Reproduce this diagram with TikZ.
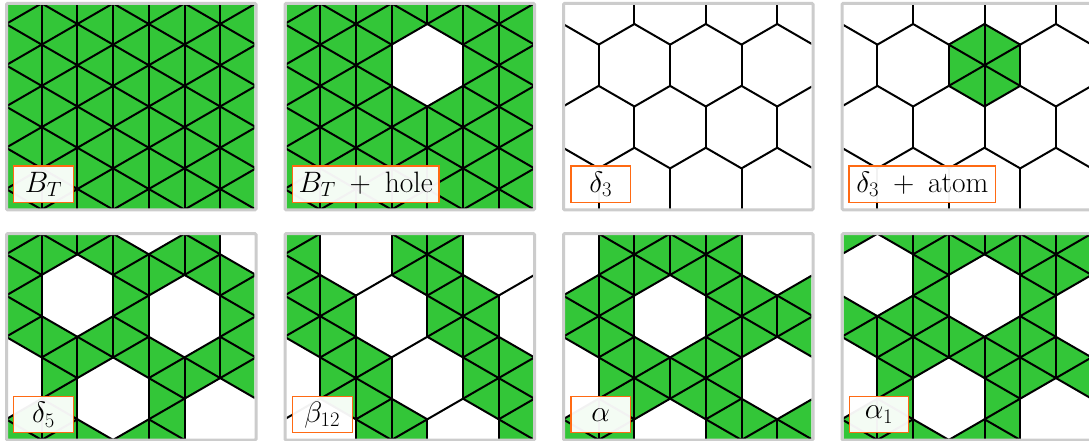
\documentclass[tikz,border=0pt]{standalone}
\usepackage{fix-cm}
\definecolor{cellgreen}{HTML}{33C638}
\definecolor{framegray}{HTML}{CCCCCC}
\definecolor{tagorange}{HTML}{FF6A13}
\tikzset{
  bondline/.style={draw=black,line width=2pt,line cap=round,line join=round},
  cellfill/.style={fill=cellgreen},
  frameline/.style={draw=framegray,line width=3pt,rounded corners=1pt},
  tag/.style={draw=tagorange,line width=1.2pt,fill=white,fill opacity=.95,text opacity=1,
    text=black,inner sep=0pt,minimum height=36.3pt,font=\fontsize{29.5}{34}\selectfont},
}
\newcommand\LP[2]{({6+35.7*(#1)},{24+20.625*(#2)})}
\newcommand\HN[3]{H#1:\the\numexpr#2\relax:\the\numexpr#3\relax}
\newcommand\triF[7]{\ifcsname\HN{#1}{#2}{#3}\endcsname\else\ifcsname\HN{#1}{#4}{#5}\endcsname\else\ifcsname\HN{#1}{#6}{#7}\endcsname\else
  \fill[cellfill] \LP{#2}{#3} -- \LP{#4}{#5} -- \LP{#6}{#7} -- cycle;\fi\fi\fi}
\newcommand\edgeD[5]{\ifcsname\HN{#1}{#2}{#3}\endcsname\else\ifcsname\HN{#1}{#4}{#5}\endcsname\else
  \draw[bondline] \LP{#2}{#3} -- \LP{#4}{#5};\fi\fi}
\newcommand\panel[4]{% id, ox, oy, holes
  \begin{scope}[shift={(#2,#3)}]
    \foreach \h in {#4}{\expandafter\gdef\csname H#1:\h\endcsname{}}
    \begin{scope}
      \clip (8,5) rectangle (254.3,208.3);
      \foreach \i in {-1,...,8}{\foreach \m in {-4,...,11}{%
        \ifodd\numexpr\i+\m+100\relax\else
          \triF{#1}{\i}{\m}{\i}{\m+2}{\i+1}{\m+1}%
          \triF{#1}{\i}{\m}{\i}{\m+2}{\i-1}{\m+1}%
        \fi}}
      \foreach \i in {-1,...,8}{\foreach \m in {-4,...,11}{%
        \ifodd\numexpr\i+\m+100\relax\else
          \edgeD{#1}{\i}{\m}{\i}{\m+2}%
          \edgeD{#1}{\i}{\m}{\i+1}{\m+1}%
          \edgeD{#1}{\i}{\m}{\i+1}{\m-1}%
        \fi}}
    \end{scope}
    \draw[frameline] (6.5,3.4) rectangle (256,209.8);
  \end{scope}
}
\begin{document}
\begin{tikzpicture}[x=1pt,y=-1pt]
\useasboundingbox (0,0) rectangle (1089,441);
\fill[white] (0,0) rectangle (1089,441);
\panel{1}{0}{0}{}
\panel{2}{278.5}{0}{4:2}
\panel{3}{557}{0}{0:-4,2:-4,4:-4,6:-4,8:-4,0:2,2:2,4:2,6:2,8:2,0:8,2:8,4:8,6:8,8:8,-1:-1,1:-1,3:-1,5:-1,7:-1,-1:5,1:5,3:5,5:5,7:5,-1:11,1:11,3:11,5:11,7:11}
\panel{4}{835.7}{0}{0:-4,2:-4,4:-4,6:-4,8:-4,0:2,2:2,6:2,8:2,0:8,2:8,4:8,6:8,8:8,-1:-1,1:-1,3:-1,5:-1,7:-1,-1:5,1:5,3:5,5:5,7:5,-1:11,1:11,3:11,5:11,7:11}
\panel{5}{0}{230.3}{2:2,5:3,3:7,7:-1,4:-2,0:6,6:8,-1:1,8:4}
\panel{6}{278.5}{230.3}{2:0,6:0,3:3,7:3,-1:3,0:6,4:6,8:6,1:9,5:9}
\panel{7}{557}{230.3}{0:0,6:0,3:3,-3:3,0:6,6:6,3:9,3:-3}
\panel{8}{835.7}{230.3}{1:1,4:2,7:3,-2:0,0:6,3:7,6:8,-1:5}
\node[tag,minimum width=59.6pt] (t1) at (43.5,184.2) {$B_T$};
\node[tag,minimum width=146.7pt] (t2) at (365.7,184.2) {$B_T$\hspace{.17em} + \hspace{.17em}hole};
\node[tag,minimum width=59.6pt] (t3) at (600.7,184.2) {$\delta_3$};
\node[tag,minimum width=146.7pt] (t4) at (922.4,184.2) {$\delta_3$\hspace{.17em} + \hspace{.17em}atom};
\node[tag,minimum width=59.6pt] (t5) at (43.5,414.7) {$\delta_5$};
\node[tag,minimum width=59.6pt] (t6) at (322.3,414.7) {$\beta_{12}$};
\node[tag,minimum width=59.6pt] (t7) at (600.7,414.7) {$\alpha$};
\node[tag,minimum width=59.6pt] (t8) at (879,414.7) {$\alpha_1$};
\end{tikzpicture}
\end{document}
